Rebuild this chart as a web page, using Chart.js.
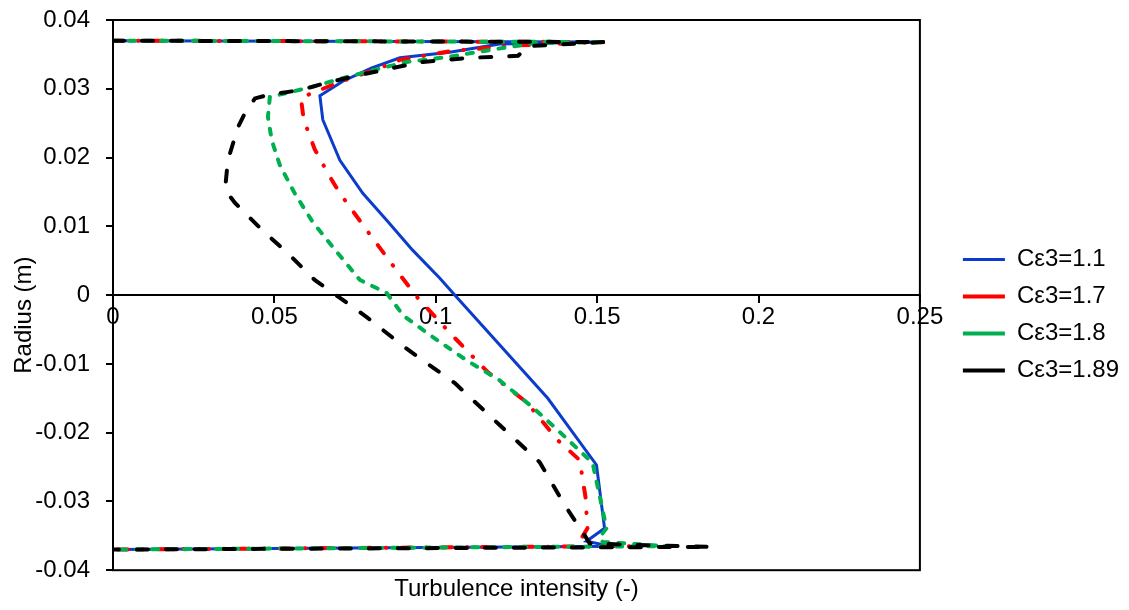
<!DOCTYPE html>
<html>
<head>
<meta charset="utf-8">
<script src="https://cdn.jsdelivr.net/npm/chart.js@4"></script>
<style>
  html, body { margin: 0; padding: 0; background: #fff; }
  #wrap { width: 1129px; height: 610px; }
</style>
</head>
<body>
<div id="wrap"><canvas id="tiChart" width="1129" height="610"></canvas></div>
<script>
// Turbulence intensity profiles across the radius, one per C-epsilon-3 value
const labels = ['Cε3=1.1', 'Cε3=1.7', 'Cε3=1.8', 'Cε3=1.89'];

const ti11 = [0, 0.1523, 0.1198, 0.1043, 0.0889, 0.0800, 0.0712, 0.0641, 0.0650, 0.0703, 0.0774, 0.0848, 0.0929, 0.1012, 0.1065, 0.1347, 0.1498, 0.1523, 0.1467, 0.1508, 0.1580, 0];
const r11  = [0.037, 0.0368, 0.0365, 0.0353, 0.0345, 0.0330, 0.0311, 0.0290, 0.0255, 0.0196, 0.0148, 0.0109, 0.0065, 0.0025, -0.0003, -0.0150, -0.0247, -0.0339, -0.0358, -0.0362, -0.0365, -0.037];

const ti17 = [0, 0.1523, 0.1250, 0.1050, 0.0889, 0.0842, 0.0703, 0.0582, 0.0591, 0.0625, 0.0672, 0.0703, 0.0793, 0.0885, 0.0944, 0.1050, 0.1161, 0.1282, 0.1378, 0.1446, 0.1464, 0.1470, 0.1446, 0.1600, 0];
const r17  = [0.037, 0.0368, 0.0363, 0.0355, 0.0342, 0.0333, 0.0310, 0.0287, 0.0255, 0.0212, 0.0172, 0.0148, 0.0090, 0.0032, -0.0004, -0.0058, -0.0112, -0.0156, -0.0211, -0.0240, -0.0294, -0.0339, -0.0358, -0.0365, -0.037];

const ti18 = [0, 0.1523, 0.1300, 0.1189, 0.1034, 0.0910, 0.0805, 0.0693, 0.0619, 0.0539, 0.0486, 0.0480, 0.0492, 0.0517, 0.0563, 0.0619, 0.0681, 0.0765, 0.0848, 0.0900, 0.0991, 0.1096, 0.1198, 0.1300, 0.1384, 0.1486, 0.1529, 0.1508, 0.1517, 0.1720, 0];
const r18  = [0.037, 0.0368, 0.0366, 0.0358, 0.0346, 0.0339, 0.0327, 0.0313, 0.0303, 0.0294, 0.0288, 0.0259, 0.0225, 0.0189, 0.0148, 0.0106, 0.0070, 0.0022, 0.0003, -0.0030, -0.0061, -0.0095, -0.0124, -0.0163, -0.0199, -0.0244, -0.0339, -0.0352, -0.0359, -0.0365, -0.037];

const ti189 = [0, 0.1523, 0.1285, 0.1255, 0.1105, 0.0960, 0.0864, 0.0765, 0.0672, 0.0579, 0.0480, 0.0440, 0.0409, 0.0387, 0.0356, 0.0347, 0.0378, 0.0461, 0.0548, 0.0625, 0.0712, 0.0786, 0.0904, 0.1059, 0.1198, 0.1322, 0.1399, 0.1461, 0.1477, 0.1600, 0.1855, 0];
const r189  = [0.037, 0.0368, 0.0362, 0.0348, 0.0345, 0.0339, 0.0330, 0.0320, 0.0310, 0.0298, 0.0291, 0.0286, 0.0265, 0.0244, 0.0196, 0.0153, 0.0134, 0.0095, 0.0058, 0.0022, -0.0007, -0.0032, -0.0076, -0.0128, -0.0189, -0.0243, -0.0305, -0.0349, -0.0361, -0.0363, -0.0366, -0.037];

const xTicks = [0, 0.05, 0.1, 0.15, 0.2, 0.25];
const yTicks = [0.04, 0.03, 0.02, 0.01, 0, -0.01, -0.02, -0.03, -0.04];

function pts(xs, ys) {
    return xs.map((x, i) => ({ x: x, y: ys[i] }));
}

Chart.defaults.font.family = '"Liberation Sans", Arial, sans-serif';
Chart.defaults.font.size = 24;
Chart.defaults.color = '#000';

// plot frame (top, right, bottom)
const frame = {
    id: 'frame',
    beforeDatasetsDraw(chart) {
        const a = chart.chartArea, c = chart.ctx;
        c.save();
        c.strokeStyle = '#000';
        c.lineWidth = 2;
        c.strokeRect(a.left, a.top, a.right - a.left, a.bottom - a.top);
        c.restore();
    }
};

const round2 = v => String(Math.round(v * 100) / 100);

new Chart(document.getElementById('tiChart'), {
    type: 'scatter',
    data: {
        datasets: [
            { label: labels[0], data: pts(ti11, r11), borderColor: '#0B3CCB', borderWidth: 3, order: 4 },
            { label: labels[1], data: pts(ti17, r17), borderColor: '#FF0000', borderWidth: 4, borderDash: [10, 15, 0.5, 15], borderCapStyle: 'round', order: 3 },
            { label: labels[2], data: pts(ti18, r18), borderColor: '#00B050', borderWidth: 4, borderDash: [6, 10], borderCapStyle: 'round', order: 2 },
            { label: labels[3], data: pts(ti189, r189), borderColor: '#000000', borderWidth: 4, borderDash: [11, 18], borderCapStyle: 'round', order: 1 }
        ].map(d => Object.assign(d, { showLine: true, pointRadius: 0, pointHoverRadius: 0, tension: 0, fill: false, backgroundColor: d.borderColor }))
    },
    options: {
        responsive: false,
        devicePixelRatio: 1,
        animation: false,
        events: [],
        layout: { padding: { top: 20, left: 0, right: 0, bottom: 0 } },
        scales: {
            x: {
                type: 'linear',
                position: { y: 0 },
                min: 0, max: 0.25,
                afterBuildTicks: s => { s.ticks = xTicks.map(v => ({ value: v })); },
                ticks: { callback: round2, padding: 1, maxRotation: 0, autoSkip: false },
                grid: { display: true, drawOnChartArea: false, tickLength: 7, color: '#000', lineWidth: 2 },
                border: { display: true, color: '#000', width: 2 }
            },
            y: {
                type: 'linear',
                position: 'left',
                min: -0.04, max: 0.04,
                afterBuildTicks: s => { s.ticks = yTicks.map(v => ({ value: v })); },
                afterFit: s => { s.width = 113; s.paddingTop = 0; s.paddingBottom = 0; },
                ticks: { callback: round2, padding: 16, autoSkip: false },
                grid: { display: true, drawOnChartArea: false, tickLength: 7, color: '#000', lineWidth: 2 },
                border: { display: true, color: '#000', width: 2 },
                title: { display: true, text: 'Radius (m)      ', padding: { top: 10, bottom: 0 } }
            },
            y2: {
                type: 'linear',
                position: 'right',
                display: true,
                afterFit: s => { s.width = 30; s.paddingTop = 0; s.paddingBottom = 0; },
                ticks: { display: false },
                grid: { display: false },
                border: { display: false }
            }
        },
        plugins: {
            legend: {
                position: 'right',
                labels: {
                    usePointStyle: true,
                    pointStyle: 'line',
                    pointStyleWidth: 42,
                    padding: 13,
                    color: '#000',
                    sort: (a, b) => a.datasetIndex - b.datasetIndex
                }
            },
            title: {
                display: true,
                text: 'Turbulence intensity (-)',
                position: 'bottom',
                fullSize: false,
                font: { size: 24, weight: 'normal' },
                padding: { top: 5, bottom: 6 }
            },
            tooltip: { enabled: false }
        }
    },
    plugins: [frame]
});
</script>
</body>
</html>
